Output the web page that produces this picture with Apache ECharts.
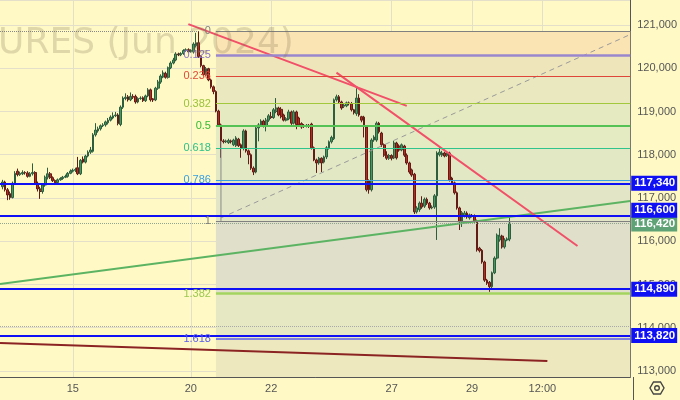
<!DOCTYPE html>
<html><head><meta charset="utf-8">
<script src="https://cdn.jsdelivr.net/npm/echarts@6/dist/echarts.min.js"></script>
<style>html,body{margin:0;padding:0;background:#FFF9C6}#c{width:680px;height:400px}</style>
</head><body><div id="c"></div><script>
// ---- data ----
const slotCount = 252;
const dayLabels = ['15','20','22','27','29','12:00'];
const dayLabelSlots = [29,76,108,156,188,216];
const yMin = 112861, yMax = 121578;
// [open, close, low, high]
const candles = [
[117260,117370,117200,117420],[117370,117190,117150,117400],[117190,117070,116950,117230],[117100,117010,116960,117150],
[117010,117340,116990,117380],[117340,117570,117300,117620],[117620,117540,117500,117680],[117540,117570,117510,117610],
[117560,117590,117530,117640],[117590,117580,117540,117620],[117580,117500,117470,117620],[117500,117560,117480,117600],
[117560,117590,117520,117800],[117590,117340,117300,117620],[117340,117210,117150,117380],[117210,117150,116980,117260],
[117150,117300,117100,117340],[117300,117480,117260,117520],[117480,117560,117430,117700],[117560,117470,117440,117600],
[117470,117400,117370,117500],[117400,117360,117300,117430],[117360,117420,117330,117450],[117420,117450,117400,117480],
[117450,117480,117420,117510],[117480,117500,117460,117540],[117500,117570,117470,117600],[117570,117620,117550,117660],
[117620,117640,117590,117680],[117640,117660,117600,117700],[117700,117560,117530,117950],[117560,117870,117530,117900],
[117900,117830,117800,117960],[117830,117970,117800,118000],[117970,118060,117940,118100],[118060,118110,118020,118180],
[118080,118460,118050,118500],[118460,118570,118420,118730],[118550,118600,118510,118650],[118600,118670,118560,118700],
[118670,118690,118640,118730],[118690,118760,118650,118790],[118740,118800,118700,118850],[118800,118870,118770,118910],
[118850,118900,118820,118980],[118900,118920,118870,118990],[118920,118720,118680,118960],[118700,119100,118660,119140],
[119100,119310,119060,119350],[119300,119330,119260,119420],[119340,119270,119230,119380],[119270,119350,119240,119440],
[119350,119330,119290,119400],[119350,119220,119180,119390],[119220,119300,119190,119330],[119300,119310,119270,119350],
[119320,119250,119220,119350],[119250,119360,119220,119390],[119360,119500,119330,119540],[119500,119270,119230,119530],
[119290,119270,119220,119310],[119270,119540,119240,119570],[119540,119680,119500,119730],[119680,119820,119640,119860],
[119800,119890,119770,119950],[119880,119790,119760,119920],[119790,120010,119760,120040],[120010,120120,119980,120160],
[120120,120190,120090,120240],[120190,120330,120160,120370],[120330,120310,120280,120360],[120310,120340,120280,120370],
[120340,120410,120310,120440],[120410,120430,120380,120460],[120430,120380,120350,120460],[120390,120410,120360,120440],
[120380,120560,120340,120600],[120520,120590,120480,120820],[120590,120270,120240,120860],[120270,120060,120020,120300],
[120060,119850,119810,120080],[119850,119990,119820,120030],[119990,119730,119700,120010],[119730,119570,119530,119760],
[119570,119460,119400,119600],[119460,119010,118980,119490],[119010,118690,118650,119040],[118690,118320,117930,118720],
[118320,118300,118260,118360],[118300,118320,118270,118350],[118280,118330,118250,118370],[118320,118300,118260,118350],
[118230,118340,118200,118370],[118210,118390,118180,118430],[118360,118210,118180,118390],[118230,118150,117930,118260],
[118150,118550,118100,118590],[118550,118090,118050,118580],[118090,118000,117780,118120],[118000,117690,117650,118030],
[117690,117600,117530,117730],[117600,118620,117570,118660],[118620,118690,118310,118730],[118690,118780,118650,118820],
[118780,118660,118630,118810],[118660,118800,118540,118850],[118800,118900,118760,118940],[118880,118860,118830,118990],
[118860,119040,118830,119080],[119000,119080,118960,119310],[119080,118920,118890,119110],[119050,118880,118840,119100],
[118920,118800,118770,118950],[118800,118830,118770,118870],[118830,118990,118800,119040],[118990,118730,118690,119020],
[118730,118990,118700,119030],[118990,118700,118590,119020],[118850,118690,118650,118880],[118720,118640,118600,118750],
[118680,118660,118620,118710],[118660,118680,118630,118710],[118680,118660,118620,118710],[118710,118160,118120,118740],
[118160,117880,117850,118190],[117880,117810,117580,117910],[117810,117920,117770,117950],[117920,117810,117600,117940],
[117830,117950,117800,117980],[117950,118160,117900,118200],[118160,118300,118120,118330],[118300,118400,118260,118440],
[118370,119270,118340,119300],[119270,119340,119230,119390],[119340,119220,119190,119380],[119220,119080,119040,119250],
[119120,119150,119080,119190],[119130,119200,119100,119230],[119200,119180,119140,119230],[119180,119040,119000,119220],
[119040,118970,118930,119060],[118950,119310,118900,119540],[119310,118920,118880,119400],[118880,118800,118750,118900],
[118870,118690,118400,118900],[118640,117190,117150,118680],[117400,117190,117100,117430],[117190,118340,117150,118380],
[118340,118410,118300,118450],[118340,118730,118300,118770],[118730,118530,118490,118760],[118500,118230,118180,118530],
[118230,117990,117950,118260],[117990,117920,117880,118080],[117920,117980,117880,118020],[117980,117920,117870,118010],
[117930,118270,117900,118320],[118270,117930,117890,118300],[118200,118110,118070,118240],[118110,118230,118080,118260],
[118200,117990,117950,118230],[117990,117810,117770,118030],[117810,117600,117560,117840],[117650,117530,117490,117680],
[117550,116680,116630,117580],[116680,116770,116640,116810],[116730,116880,116680,116920],[116880,116790,116750,117040],
[116810,116970,116770,117010],[116970,116880,116840,117010],[116880,116770,116730,116910],[116770,116790,116740,116830],
[116790,117050,116750,117090],[117050,118040,116030,118080],[118000,118060,117960,118180],[117990,118040,117950,118090],
[118040,117970,117940,118070],[117980,118040,117950,118070],[118040,117420,117380,118070],[117460,117350,117310,117490],
[117350,117120,117080,117380],[117120,116770,116730,117150],[116770,116450,116260,116800],[116450,116660,116330,116700],
[116580,116650,116550,116700],[116650,116560,116520,116690],[116540,116610,116500,116640],[116600,116580,116550,116630],
[116580,116470,116430,116620],[116470,115800,115760,116500],[115840,115780,115740,115870],[115790,115520,115480,115820],
[115520,115100,115060,115550],[115100,115030,114990,115130],[115050,114950,114830,115080],[114950,115270,114910,115300],
[115270,115610,115240,115650],[115610,116140,115580,116180],[116030,116120,115990,116300],[116120,115870,115830,116150],
[115870,116030,115830,116070],[116030,116050,116000,116090],[116050,116420,116000,116560]
];
const fibLevels = ['0','0.125','0.236','0.382','0.5','0.618','0.786','1','1.382','1.618'];
const fibPrices = [120860,120310,119820,119180,118660,118150,117410,116470,114790,113750];
const fibColors = ['#808080','#9a86cc','#e0453a','#a2c83e','#55c255','#2ec48c','#3aa0e0','#808080','#a4d460','#5a5ee6'];
const fibLabelColors = ['#808080','#8a74c8','#e04a3a','#9bc23a','#34bb34','#2cc08a','#3a9fe0','#7a7a7a','#9cc84e','#5a5ee6'];
const fibWidths = [1,2.5,1,1,2,1,1,1,2.5,1.5];
const fibBandColors = ['#FBE4B4','#EFE5BA','#EAE8BF','#E6EAC0','#E4EAC2','#E2E8C4','#E3E6C6','#DFDFCA','#E5E8C2','#EEE8BE'];
const fibStartSlot = 86, fibEndSlot = 251;
const keyLevels = [117340,116600,114890,113820];
const keyLabelShift = [0,-5,0,0];
const lastPrice = 116420;
const highDotted = [[0,120860],[79,120860]];
const dottedLevel = 114040;
const greenLine = [[0,115010],[251,116930]];
const maroonLine = [[0,113650],[218,113230]];
const redLineA = [[75,121020],[162,119130]];
const redLineB = [[134,119900],[230,115890]];
const dashedLine = [[88,116540],[251,120780]];
const anchorLine = [[87.5,118320],[87.5,116470]];

// ---- chart ----
const categories = Array.from({length: slotCount}, (_, i) => String(i));
const labelMap = {};
dayLabelSlots.forEach((s, i) => { labelMap[s] = dayLabels[i]; });
const isLabelSlot = (i) => labelMap[i] !== undefined;
const fmt = v => Number(v).toLocaleString('en-US');
const FONT = 'Liberation Sans, Arial, sans-serif';

const bandData = fibPrices.map((p, i) => {
  const next = i < fibPrices.length - 1 ? fibPrices[i + 1] : yMin;
  return [{coord: [fibStartSlot, p], itemStyle: {color: fibBandColors[i]}}, {coord: [fibEndSlot, next]}];
});
const fibLineData = fibPrices.map((p, i) => [
  {coord: [fibStartSlot, p], lineStyle: {color: fibColors[i], width: fibWidths[i], type: 'solid'},
   label: {show: true, position: 'start', distance: 5, formatter: fibLevels[i], color: fibLabelColors[i], fontSize: 11, fontFamily: FONT}},
  {coord: [fibEndSlot, p]}
]);
const keyLineData = keyLevels.map((v, i) => ({yAxis: v, label: {offset: [0, keyLabelShift[i]]}}));

const chart = echarts.init(document.getElementById('c'), null, {renderer: 'canvas'});
chart.setOption({
  animation: false,
  backgroundColor: '#FFF9C6',
  grid: {left: 0, right: 47, top: 0, bottom: 23, containLabel: false},
  xAxis: {
    type: 'category', data: categories, boundaryGap: false,
    axisLine: {lineStyle: {color: '#555', width: 1}},
    axisTick: {show: false},
    axisLabel: {interval: (i) => isLabelSlot(i), formatter: (v, i) => labelMap[i] || '', color: '#555', fontSize: 11, margin: 6, fontFamily: FONT},
    splitLine: {show: true, interval: (i) => isLabelSlot(i), lineStyle: {color: '#e3dfc9', width: 1}}
  },
  yAxis: {
    type: 'value', position: 'right', min: yMin, max: yMax, splitNumber: 8,
    axisLine: {show: true, lineStyle: {color: '#555', width: 1}},
    axisTick: {show: false},
    axisLabel: {color: '#555', fontSize: 11, margin: 7, showMinLabel: false, showMaxLabel: false, formatter: fmt, fontFamily: FONT},
    splitLine: {show: true, lineStyle: {color: '#e3dfc9', width: 1}}
  },
  graphic: [
    {type: 'text', left: -71, top: 26, z: 100, silent: true,
     style: {text: 'FUTURES (Jun 2024)', font: '36px DejaVu Sans', fill: 'rgba(120,110,70,0.24)'}},
    {type: 'line', z: 10, shape: {x1: 633.5, y1: 377, x2: 633.5, y2: 400}, style: {stroke: '#555', lineWidth: 1}},
    {type: 'group', x: 657, y: 388, z: 10, children: [
      {type: 'polygon', shape: {points: [[7,0],[3.5,6],[-3.5,6],[-7,0],[-3.5,-6],[3.5,-6]]}, style: {fill: 'none', stroke: '#444', lineWidth: 1.4}},
      {type: 'circle', shape: {cx: 0, cy: 0, r: 2.3}, style: {fill: 'none', stroke: '#444', lineWidth: 1.4}}
    ]}
  ],
  series: [
    {name: 'fibBands', type: 'line', data: [], z: 1, silent: true,
     markArea: {silent: true, data: bandData}},
    {name: 'fibLevels', type: 'line', data: [], z: 2, silent: true,
     markLine: {silent: true, symbol: ['none', 'none'], data: fibLineData}},
    {name: 'dotted', type: 'line', data: [], z: 2, silent: true,
     markLine: {silent: true, symbol: ['none', 'none'], label: {show: false},
       data: [
         [{coord: highDotted[0], lineStyle: {color: '#888', type: 'dotted', width: 1}}, {coord: highDotted[1]}],
         {yAxis: dottedLevel, lineStyle: {color: '#aaa', type: 'dotted', width: 1}}
       ]}},
    {name: 'price', type: 'candlestick', z: 3,
     data: candles.map((c, i) => [i + 1, c[0], c[1], c[2], c[3]]),
     encode: {x: 0, y: [1, 2, 3, 4]},
     barWidth: 2.2,
     itemStyle: {color: '#449a5e', color0: '#b8291f', borderColor: '#2e5e3e', borderColor0: '#621c15', borderWidth: 1}},
    {name: 'anchor', type: 'line', z: 4, data: anchorLine, showSymbol: false, silent: true,
     lineStyle: {color: '#888', width: 1}},
    {name: 'dashed', type: 'line', z: 4, data: dashedLine, showSymbol: false, silent: true,
     lineStyle: {color: '#9a9a9a', width: 1, type: [5, 4]}},
    {name: 'green', type: 'line', z: 4, data: greenLine, showSymbol: false, silent: true,
     lineStyle: {color: '#5cb463', width: 2}},
    {name: 'maroon', type: 'line', z: 4, data: maroonLine, showSymbol: false, silent: true,
     lineStyle: {color: '#8b2323', width: 2}},
    {name: 'redA', type: 'line', z: 4, data: redLineA, showSymbol: false, silent: true,
     lineStyle: {color: '#f25068', width: 2}},
    {name: 'redB', type: 'line', z: 4, data: redLineB, showSymbol: false, silent: true,
     lineStyle: {color: '#f25068', width: 2}},
    {name: 'last', type: 'line', data: [], z: 5, silent: true,
     markLine: {silent: true, symbol: ['none', 'none'],
       lineStyle: {color: '#8fa58f', width: 1, type: 'dotted'},
       label: {show: true, position: 'end', distance: 1, offset: [0, 1], formatter: (p) => fmt(p.value), color: '#fff', fontWeight: 'bold',
               fontSize: 11.5, lineHeight: 13, backgroundColor: '#5fa275', padding: [1, 2, 1, 3], fontFamily: FONT},
       data: [{yAxis: lastPrice}]}},
    {name: 'levels', type: 'line', data: [], z: 6, silent: true,
     markLine: {silent: true, symbol: ['none', 'none'],
       lineStyle: {color: '#1010f5', width: 2, type: 'solid'},
       label: {show: true, position: 'end', distance: 1, formatter: (p) => fmt(p.value), color: '#fff', fontWeight: 'bold',
               fontSize: 11.5, lineHeight: 13, backgroundColor: '#1010f5', padding: [1, 2, 1, 3], fontFamily: FONT},
       data: keyLineData}}
  ]
});
</script></body></html>
